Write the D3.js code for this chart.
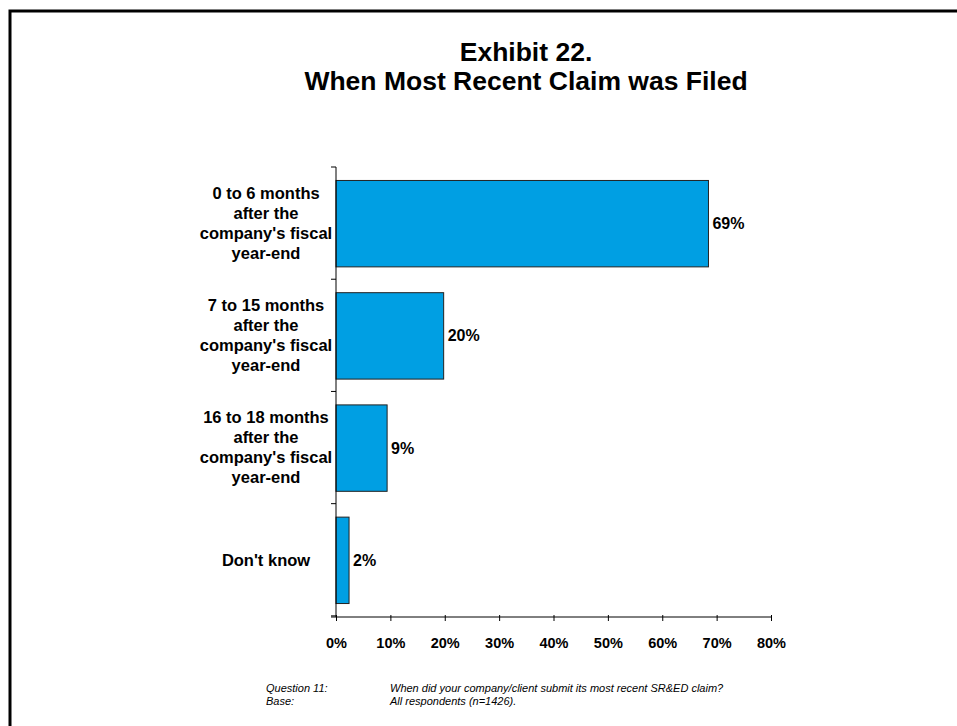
<!DOCTYPE html>
<html>
<head>
<meta charset="utf-8">
<script src="https://cdn.jsdelivr.net/npm/d3@7"></script>
<style>
  body { margin: 0; background: #fff; }
  svg text { font-family: 'Liberation Sans', Arial, sans-serif; fill: #000; }
</style>
</head>
<body>
<div id="chart"></div>
<script>
const categories = [
  ['0 to 6 months', 'after the', "company's fiscal", 'year-end'],
  ['7 to 15 months', 'after the', "company's fiscal", 'year-end'],
  ['16 to 18 months', 'after the', "company's fiscal", 'year-end'],
  ["Don't know"],
];
const values = [68.5, 19.8, 9.4, 2.4];
const xTicks = [0, 10, 20, 30, 40, 50, 60, 70, 80];
const titleLines = ['Exhibit 22.', 'When Most Recent Claim was Filed'];
const notes = [
  ['Question 11:', 'When did your company/client submit its most recent SR&ED claim?'],
  ['Base:', 'All respondents (n=1426).'],
];

const width = 957;
const height = 726;
const margin = { top: 167, left: 336, right: 186, bottom: 109 };

const svg = d3.select('#chart').append('svg')
  .attr('width', width)
  .attr('height', height);

// frame (top + left edges)
svg.append('path')
  .attr('d', `M10,${height} L10,11 L${width},11`)
  .attr('fill', 'none')
  .attr('stroke', '#000')
  .attr('stroke-width', 3);

svg.append('g').selectAll('text')
  .data(titleLines)
  .enter().append('text')
  .attr('x', 526)
  .attr('y', (d, i) => 61 + i * 29)
  .attr('text-anchor', 'middle')
  .style('font-size', '26.5px')
  .style('font-weight', 'bold')
  .text(d => d);

const x = d3.scaleLinear()
  .domain([0, 80])
  .range([margin.left, width - margin.right]);

const y = d3.scaleBand()
  .domain(d3.range(categories.length))
  .range([margin.top, height - margin.bottom])
  .paddingInner(0.23)
  .paddingOuter(0.12);

const step = y.step();

// bars
svg.append('g').selectAll('rect')
  .data(values)
  .enter().append('rect')
  .attr('x', x(0))
  .attr('y', (d, i) => y(i))
  .attr('width', d => x(d) - x(0))
  .attr('height', y.bandwidth())
  .attr('fill', '#009FE3')
  .attr('stroke', '#222')
  .attr('stroke-width', 1);

// value labels
svg.append('g').selectAll('text')
  .data(values)
  .enter().append('text')
  .attr('x', d => x(d) + 4)
  .attr('y', (d, i) => y(i) + y.bandwidth() / 2)
  .attr('dy', '0.35em')
  .style('font-size', '16px')
  .style('font-weight', 'bold')
  .text(d => `${Math.round(d)}%`);

// y axis line + ticks at band boundaries
const yAxis = svg.append('g');
yAxis.append('line')
  .attr('x1', x(0)).attr('x2', x(0))
  .attr('y1', margin.top).attr('y2', height - margin.bottom)
  .attr('stroke', '#000');
yAxis.selectAll('line.tick')
  .data(d3.range(categories.length + 1))
  .enter().append('line')
  .attr('class', 'tick')
  .attr('x1', x(0) - 5).attr('x2', x(0))
  .attr('y1', i => margin.top + i * step)
  .attr('y2', i => margin.top + i * step)
  .attr('stroke', '#000');

// category labels
const catG = svg.append('g').selectAll('text')
  .data(categories)
  .enter().append('text')
  .attr('text-anchor', 'middle')
  .style('font-size', '16.5px')
  .style('font-weight', 'bold')
  .attr('transform', (d, i) => `translate(266,${margin.top + i * step + step / 2})`);
catG.selectAll('tspan')
  .data(d => d.map((t, j) => ({ t, j, n: d.length })))
  .enter().append('tspan')
  .attr('x', 0)
  .attr('y', d => (d.j - (d.n - 1) / 2) * 20)
  .attr('dy', '0.35em')
  .text(d => d.t);

// x axis
const xAxis = svg.append('g')
  .attr('transform', `translate(0,${height - margin.bottom})`)
  .call(d3.axisBottom(x).tickValues(xTicks).tickSize(4).tickFormat(d => `${d}%`));
xAxis.select('.domain').attr('d', `M${x(0) - 5},0H${x(80)}`).attr('stroke', '#000');
xAxis.selectAll('.tick line').attr('y1', -2).attr('stroke', '#000');
xAxis.selectAll('.tick text')
  .attr('y', 21)
  .style('font-size', '14.5px')
  .style('font-weight', 'bold')
  .style('font-family', "'Liberation Sans', Arial, sans-serif")
  .attr('fill', '#000');

// footnote
const noteG = svg.append('g').selectAll('g')
  .data(notes)
  .enter().append('g')
  .attr('transform', (d, i) => `translate(0,${692 + i * 13})`);
noteG.append('text')
  .attr('x', 266)
  .style('font-size', '11px')
  .style('font-style', 'italic')
  .text(d => d[0]);
noteG.append('text')
  .attr('x', 390)
  .style('font-size', '11px')
  .style('font-style', 'italic')
  .text(d => d[1]);
</script>
</body>
</html>
